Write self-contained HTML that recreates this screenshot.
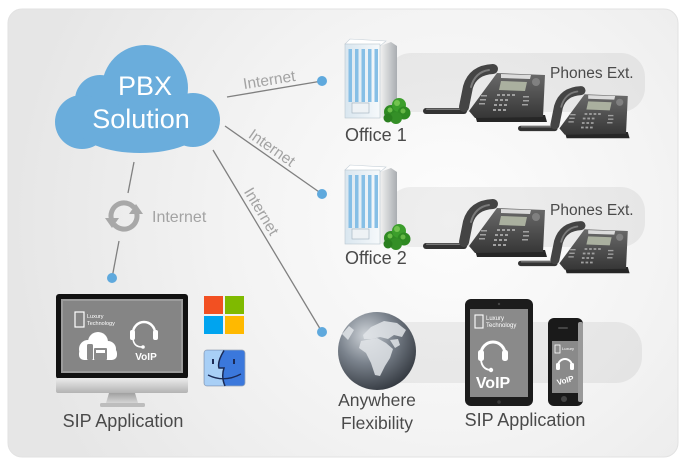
<!DOCTYPE html>
<html><head><meta charset="utf-8"><style>
html,body{margin:0;padding:0;background:#fff;}
svg{display:block;}
text{font-family:"Liberation Sans",sans-serif;}
</style></head><body>
<svg width="686" height="467" viewBox="0 0 686 467" xmlns="http://www.w3.org/2000/svg">
<defs>
<radialGradient id="bg" cx="450" cy="220" r="440" gradientUnits="userSpaceOnUse">
<stop offset="0" stop-color="#fdfdfd"/><stop offset="0.5" stop-color="#f3f3f3"/><stop offset="1" stop-color="#e6e6e6"/>
</radialGradient>
<linearGradient id="bfront" x1="0" y1="0" x2="1" y2="0"><stop offset="0" stop-color="#d9e6ef"/><stop offset="1" stop-color="#f6f9fb"/></linearGradient>
<linearGradient id="bside" x1="0" y1="0" x2="1" y2="0"><stop offset="0" stop-color="#f2f2f2"/><stop offset="1" stop-color="#a9adb1"/></linearGradient>
<linearGradient id="phb" x1="0" y1="0" x2="0" y2="1"><stop offset="0" stop-color="#6a6a6a"/><stop offset="1" stop-color="#363636"/></linearGradient>
<radialGradient id="glb" cx="0.36" cy="0.3" r="0.78"><stop offset="0" stop-color="#d0d5da"/><stop offset="0.45" stop-color="#7b838d"/><stop offset="1" stop-color="#2e333a"/></radialGradient>
<linearGradient id="chin" x1="0" y1="0" x2="0" y2="1"><stop offset="0" stop-color="#ececec"/><stop offset="1" stop-color="#b3b3b3"/></linearGradient>
<linearGradient id="neck" x1="0" y1="0" x2="0" y2="1"><stop offset="0" stop-color="#a0a0a0"/><stop offset="1" stop-color="#d5d5d5"/></linearGradient>

<g id="bld">
  <polygon points="380,46 391,42 397,46 397,116 380,118" fill="url(#bside)"/>
  <polygon points="345,44 350,39 386,41 380,46" fill="#ffffff" stroke="#c6d0d8" stroke-width="0.6"/>
  <rect x="345" y="44" width="35" height="74" fill="url(#bfront)" stroke="#b9c6cf" stroke-width="0.6"/>
  <rect x="348.5" y="49" width="3.5" height="53" fill="#86bfe6"/>
  <rect x="355" y="49" width="3.5" height="53" fill="#86bfe6"/>
  <rect x="361.5" y="49" width="3.5" height="53" fill="#86bfe6"/>
  <rect x="368" y="49" width="3.5" height="53" fill="#86bfe6"/>
  <rect x="374.5" y="49" width="3.5" height="53" fill="#86bfe6"/>
  <rect x="352" y="103" width="17" height="10" fill="#eef2f5" stroke="#9fb0bc" stroke-width="0.6"/>
  <circle cx="391" cy="112" r="7" fill="#2f8a23"/>
  <circle cx="399" cy="105" r="7" fill="#3c9e2c"/>
  <circle cx="404" cy="113" r="6.5" fill="#2e8a22"/>
  <circle cx="396" cy="118" r="6" fill="#348f27"/>
  <circle cx="388" cy="118" r="4.5" fill="#2a7f1f"/>
  <circle cx="397" cy="103" r="3" fill="#72c44f"/>
  <circle cx="390" cy="110" r="2.5" fill="#6cbf4a"/>
  <circle cx="403" cy="111" r="2.5" fill="#66b846"/>
</g>

<g id="ph">
  <rect x="0" y="43" width="44" height="6" rx="3" fill="#333"/>
  <rect x="3" y="43.5" width="36" height="1.5" rx="0.7" fill="#777"/>
  <polygon points="52,50 122,50 124,57 54,57" fill="#262626"/>
  <polygon points="74,8 122,10 120,52 52,53 46,46" fill="url(#phb)"/>
  <path d="M70 4 Q50 5 45 22 L41 42" stroke="#444" stroke-width="10" fill="none" stroke-linecap="round"/>
  <path d="M66 5 Q52 7 48 22" stroke="#7a7a7a" stroke-width="2" fill="none" stroke-linecap="round"/>
  <polygon points="78,9 108,10 107,14 78,13" fill="#dcdcdc"/>
  <polygon points="78,16 104,17 102,26 76,25" fill="#aab09f"/>
  <circle cx="113" cy="17" r="4" fill="#808080"/>
  <g fill="#a0a0a0">
    <rect x="74" y="29" width="3" height="2"/><rect x="79" y="29" width="3" height="2"/><rect x="84" y="29" width="3" height="2"/><rect x="89" y="29" width="3" height="2"/>
    <rect x="72" y="34" width="3" height="2"/><rect x="77" y="34" width="3" height="2"/><rect x="82" y="34" width="3" height="2"/>
    <rect x="71" y="39" width="3" height="2"/><rect x="76" y="39" width="3" height="2"/><rect x="81" y="39" width="3" height="2"/>
    <rect x="70" y="44" width="3" height="2"/><rect x="75" y="44" width="3" height="2"/><rect x="80" y="44" width="3" height="2"/>
    <rect x="100" y="31" width="6" height="1.5"/><rect x="100" y="35" width="6" height="1.5"/><rect x="99" y="39" width="6" height="1.5"/>
    <rect x="58" y="30" width="6" height="1.5"/><rect x="57" y="34" width="6" height="1.5"/><rect x="56" y="38" width="6" height="1.5"/>
  </g>
</g>
</defs>

<rect x="8" y="9" width="670" height="448" rx="14" fill="url(#bg)" stroke="#e2e2e2" stroke-width="1"/>

<!-- bands -->
<rect x="387" y="53" width="258" height="59" rx="24" fill="#000" fill-opacity="0.055"/>
<rect x="387" y="187" width="258" height="60" rx="24" fill="#000" fill-opacity="0.055"/>
<rect x="353" y="322" width="289" height="61" rx="26" fill="#000" fill-opacity="0.055"/>

<!-- connectors -->
<g stroke="#808080" stroke-width="1.3" fill="none">
  <line x1="227" y1="97" x2="322" y2="81"/>
  <line x1="225" y1="126" x2="322" y2="194"/>
  <line x1="213" y1="150" x2="322" y2="332"/>
  <line x1="134" y1="162" x2="128" y2="193"/>
  <line x1="119" y1="241" x2="112" y2="278"/>
</g>
<g fill="#5fa9dd">
  <circle cx="322" cy="81" r="5"/>
  <circle cx="322" cy="194" r="5"/>
  <circle cx="322" cy="332" r="5"/>
  <circle cx="112" cy="278" r="5"/>
</g>
<g fill="#a3a3a3" font-size="15.5">
  <text x="270" y="85" text-anchor="middle" transform="rotate(-9 270 85)">Internet</text>
  <text x="269" y="152" text-anchor="middle" transform="rotate(35 269 152)">Internet</text>
  <text x="257" y="214" text-anchor="middle" transform="rotate(59 257 214)">Internet</text>
  <text x="152" y="222" font-size="16">Internet</text>
</g>

<!-- sync icon -->
<g stroke="#a8a8a8" stroke-width="5" fill="none">
  <path d="M134 207.6 A13 13 0 0 0 111.8 220.4"/>
  <path d="M114 224.4 A13 13 0 0 0 136.2 211.6"/>
</g>
<g fill="#a8a8a8">
  <polygon points="105,218 119,218 112,228"/>
  <polygon points="129,214 143,214 136,204"/>
</g>

<!-- cloud -->
<g fill="#6aaddc">
  <circle cx="145" cy="88" r="43"/>
  <circle cx="100" cy="100" r="25"/>
  <circle cx="82" cy="122" r="27"/>
  <circle cx="193" cy="120" r="27"/>
  <ellipse cx="140" cy="128" rx="62" ry="25"/>
</g>
<text x="145" y="95" text-anchor="middle" font-size="27" fill="#fff">PBX</text>
<text x="141" y="128" text-anchor="middle" font-size="27" fill="#fff">Solution</text>

<!-- offices -->
<use href="#bld"/>
<use href="#bld" transform="translate(0,126)"/>
<text x="345" y="141" font-size="18" fill="#4a4a4a">Office 1</text>
<text x="345" y="264" font-size="18" fill="#4a4a4a">Office 2</text>
<text x="550" y="78" font-size="15.5" fill="#4a4a4a">Phones Ext.</text>
<text x="550" y="215" font-size="15.5" fill="#4a4a4a">Phones Ext.</text>
<use href="#ph" transform="translate(423,65)"/>
<use href="#ph" transform="translate(518,87) scale(0.9)"/>
<use href="#ph" transform="translate(423,200)"/>
<use href="#ph" transform="translate(518,222) scale(0.9)"/>

<!-- monitor -->
<rect x="56" y="294" width="132" height="85" rx="3" fill="#111"/>
<rect x="61" y="299" width="122" height="74" fill="#9c9c9c"/>
<rect x="63" y="301" width="118" height="70" fill="#858585"/>
<rect x="56" y="378" width="132" height="15" rx="2" fill="url(#chin)"/>
<polygon points="109,393 135,393 138,403 106,403" fill="url(#neck)"/>
<rect x="100" y="403" width="45" height="4" rx="1.5" fill="#bdbdbd"/>
<rect x="75" y="312" width="9" height="15" fill="none" stroke="#fff" stroke-width="1.2"/>
<text x="87" y="318" font-size="5.5" fill="#fff">Luxury</text>
<text x="87" y="325" font-size="5.5" fill="#fff">Technology</text>
<g fill="#fff">
  <circle cx="88" cy="349" r="9"/><circle cx="98" cy="342" r="10"/><circle cx="108" cy="349" r="8"/>
  <rect x="79" y="348" width="38" height="12" rx="5"/>
</g>
<rect x="87" y="344" width="6" height="16" rx="1.5" fill="#8a8a8a"/>
<rect x="94" y="348" width="13" height="12" rx="1" fill="#8a8a8a"/>
<rect x="96" y="350" width="9" height="3" fill="#fff"/>
<path d="M133 333 A11 11 0 0 1 155 333" stroke="#fff" stroke-width="2.5" fill="none"/>
<rect x="130" y="330" width="5" height="10" rx="2" fill="#fff"/>
<rect x="153" y="330" width="5" height="10" rx="2" fill="#fff"/>
<path d="M133 339 Q134 347 142 347" stroke="#fff" stroke-width="1.5" fill="none"/>
<circle cx="143" cy="347" r="1.8" fill="#fff"/>
<text x="146" y="360" text-anchor="middle" font-size="10" font-weight="bold" fill="#fff">VoIP</text>
<text x="123" y="427" text-anchor="middle" font-size="18" fill="#4a4a4a">SIP Application</text>

<!-- OS icons -->
<rect x="204" y="296" width="19" height="18" fill="#f25022"/>
<rect x="225" y="296" width="19" height="18" fill="#7fba00"/>
<rect x="204" y="316" width="19" height="18" fill="#00a4ef"/>
<rect x="225" y="316" width="19" height="18" fill="#ffb900"/>
<rect x="204" y="350" width="41" height="36" rx="3" fill="#3b78dc" stroke="#9aa7b8" stroke-width="0.8"/>
<path d="M204.5 353 Q204.5 350.5 207 350.5 L224 350.5 Q217 362 219 368 L224 368 Q221 377 225 385.5 L207 385.5 Q204.5 385.5 204.5 383 Z" fill="#a8cff6"/>
<path d="M224 350.5 Q217 362 219 368 L224 368 Q221 377 225 386" stroke="#1b2a55" stroke-width="1.5" fill="none"/>
<rect x="212" y="359" width="2" height="5" fill="#1b2a55"/>
<rect x="233" y="359" width="2" height="5" fill="#1b2a55"/>
<path d="M208 375 Q224 383 241 374" stroke="#1b2a55" stroke-width="1.3" fill="none"/>

<!-- globe -->
<circle cx="377" cy="351" r="39" fill="url(#glb)"/>
<g fill="#e0e4e8" fill-opacity="0.85">
  <path d="M361 341 L377 338 L386 343 L393 349 L390 358 L385 366 L380 376 L375 375 L371 363 L366 353 L359 348 Z"/>
  <path d="M363 335 L371 327 L384 321 L397 323 L406 330 L402 337 L394 335 L388 339 L380 337 L372 339 L364 339 Z"/>
  <path d="M390 340 L398 339 L400 345 L395 348 Z"/>
  <path d="M342 334 L349 326 L354 330 L348 340 Z"/>
</g>
<text x="377" y="406" text-anchor="middle" font-size="17.5" fill="#4a4a4a">Anywhere</text>
<text x="377" y="429" text-anchor="middle" font-size="17.5" fill="#4a4a4a">Flexibility</text>

<!-- tablet -->
<rect x="465" y="299" width="68" height="107" rx="6" fill="#1c1c1c"/>
<rect x="470" y="309" width="58" height="88" fill="#8a8a8a"/>
<circle cx="499" cy="304" r="1.2" fill="#444"/>
<circle cx="499" cy="402" r="1.8" fill="#3a3a3a"/>
<rect x="475" y="315" width="8" height="13" fill="none" stroke="#fff" stroke-width="1.1"/>
<text x="486" y="320" font-size="6" fill="#fff">Luxury</text>
<text x="486" y="327" font-size="6" fill="#fff">Technology</text>
<path d="M481 354 A12 12 0 0 1 505 354" stroke="#fff" stroke-width="3" fill="none"/>
<rect x="478" y="350" width="6" height="11" rx="2.5" fill="#fff"/>
<rect x="502" y="350" width="6" height="11" rx="2.5" fill="#fff"/>
<path d="M481 360 Q482 369 490 370" stroke="#fff" stroke-width="1.8" fill="none"/>
<circle cx="491" cy="370" r="2.2" fill="#fff"/>
<text x="493" y="388" text-anchor="middle" font-size="16" font-weight="bold" fill="#fff">VoIP</text>

<!-- smartphone -->
<rect x="548" y="318" width="35" height="88" rx="6" fill="#1a1a1a"/>
<rect x="578" y="322" width="5" height="80" rx="2" fill="#9a9a9a"/>
<rect x="552" y="341" width="26" height="52" fill="#8a8a8a"/>
<circle cx="564" cy="399" r="3" fill="#444"/>
<rect x="558" y="327" width="10" height="2" rx="1" fill="#444"/>
<rect x="555" y="345" width="5" height="8" fill="none" stroke="#fff" stroke-width="0.8"/>
<text x="562" y="350" font-size="4" fill="#fff">Luxury</text>
<path d="M558 366 A7 7 0 0 1 572 366" stroke="#fff" stroke-width="2" fill="none"/>
<rect x="556" y="363" width="4" height="7" rx="1.5" fill="#fff"/>
<rect x="570" y="363" width="4" height="7" rx="1.5" fill="#fff"/>
<text x="566" y="383" text-anchor="middle" font-size="8" font-weight="bold" fill="#fff" transform="rotate(-15 566 383)">VoIP</text>
<text x="525" y="426" text-anchor="middle" font-size="18" fill="#4a4a4a">SIP Application</text>
</svg>
</body></html>
